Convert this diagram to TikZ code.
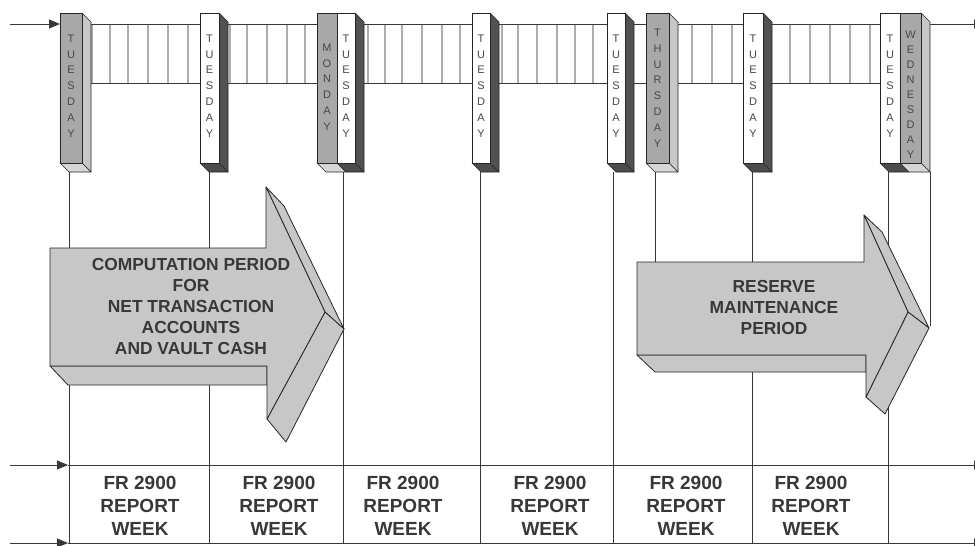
\documentclass[tikz,border=0pt]{standalone}
\usepackage{fontspec}
\setmainfont{Liberation Sans}
\usetikzlibrary{arrows.meta}
\definecolor{pgray}{gray}{0.66}
\definecolor{pgrayside}{gray}{0.78}
\definecolor{pgraybot}{gray}{0.84}
\definecolor{pdark}{gray}{0.32}
\definecolor{pdarkbot}{gray}{0.30}
\definecolor{agray}{gray}{0.78}
\definecolor{inkc}{gray}{0.22}
\newcommand\pfront[4]{%
  \filldraw[face,fill=#4] (#1,163) -- (#2,163) -- (#2+9,172) -- (#1+9,172) -- cycle;
  \filldraw[face,fill=#3] (#1,13) rectangle (#2,163);}
\newcommand\pside[2]{%
  \filldraw[face,fill=#2] (#1,13) -- (#1+9,22) -- (#1+9,172) -- (#1,163) -- cycle;}
\begin{document}
\begin{tikzpicture}[x=1pt,y=-1pt,
  line/.style={draw=inkc, line width=0.9pt},
  rung/.style={draw=black!62, double=black!32, double distance=1.7pt, line width=0.55pt},
  face/.style={draw=black!85, line width=0.6pt, line join=round},
  arrowface/.style={fill=agray, draw=black!85, line width=0.8pt, line join=round},
  daylbl/.style={font=\fontsize{11}{15.8}\selectfont, text=black!72, align=center, inner sep=0pt},
  daylblw/.style={font=\fontsize{11}{15}\selectfont, text=black!72, align=center, inner sep=0pt},
  arrlbl/.style={font=\fontsize{17.4}{21}\selectfont\bfseries, text=black!78, align=center, inner sep=0pt},
  weeklbl/.style={font=\fontsize{19}{23}\selectfont\bfseries, text=black!78, align=center, inner sep=0pt},
  tipend/.style={-{Triangle[length=11pt,width=9pt]}}]
\useasboundingbox (0,0) rectangle (975,546);
\fill[white] (0,0) rectangle (975,546);

% ---- coordinates for connectors
\coordinate (inT) at (10,24);   \coordinate (p1T) at (60,24);
\coordinate (p8T) at (930,24);  \coordinate (outT) at (985,24);
\coordinate (inM) at (10,465);  \coordinate (inB) at (10,543);
\coordinate (c1M) at (68,465);  \coordinate (c1B) at (68,543);
\coordinate (outM) at (985,465); \coordinate (outB) at (985,543);

% ---- ladder
\draw[line] (60,24) -- (930,24);
\draw[line] (60,83) -- (930,83);
\foreach \x in {92,110,128,148,168,188,230,247,267,287,305,368,385,402,422,442,460,502,518,537,557,575,593,692,712,732,790,810,830,850,870}
  \draw[rung] (\x,24.5) -- (\x,82.5);

% ---- entry / exit arrows
\draw[line,tipend] (inT) -- (p1T);
\draw[line,tipend] (p8T) -- (outT);
\draw[line,tipend] (inM) -- (c1M);
\draw[line,tipend] (inB) -- (c1B);
\draw[line,tipend] (c1M) -- (outM);
\draw[line,tipend] (c1B) -- (outB);

% ---- vertical lines
\foreach \x in {69,209,343,480,613,752,888}
  \draw[line] (\x,172) -- (\x,543);
\draw[line] (655,172) -- (655,262);
\draw[line] (930,172) -- (930,326);

% ---- pillars
\pside{82}{pgrayside}
\pfront{60}{82}{pgray}{pgraybot}
\pside{219}{pdark}
\pfront{200}{219}{white}{pdarkbot}
\pside{355}{pdark}
\pfront{317}{337}{pgray}{pgraybot}
\pfront{337}{355}{white}{pdarkbot}
\pside{490}{pdark}
\pfront{472}{490}{white}{pdarkbot}
\pside{625}{pdark}
\pfront{607}{625}{white}{pdarkbot}
\pside{669}{pgrayside}
\pfront{646}{669}{pgray}{pgraybot}
\pside{763}{pdark}
\pfront{743}{763}{white}{pdarkbot}
\pside{921}{pgrayside}
\pfront{880}{900}{white}{pdarkbot}
\pfront{900}{921}{pgray}{pgraybot}

\node[daylbl] (d1) at (71,86) {T\\U\\E\\S\\D\\A\\Y};
\node[daylbl] (d2) at (209.5,86) {T\\U\\E\\S\\D\\A\\Y};
\node[daylbl] (d3) at (327,87) {M\\O\\N\\D\\A\\Y};
\node[daylbl] (d4) at (346,86) {T\\U\\E\\S\\D\\A\\Y};
\node[daylbl] (d5) at (481,86) {T\\U\\E\\S\\D\\A\\Y};
\node[daylbl] (d6) at (616,86) {T\\U\\E\\S\\D\\A\\Y};
\node[daylbl] (d7) at (657.5,88) {T\\H\\U\\R\\S\\D\\A\\Y};
\node[daylbl] (d8) at (753,86) {T\\U\\E\\S\\D\\A\\Y};
\node[daylbl] (d9) at (890,86) {T\\U\\E\\S\\D\\A\\Y};
\node[daylblw] (d10) at (910.5,95) {W\\E\\D\\N\\E\\S\\D\\A\\Y};

% ---- left arrow (computation period)
\filldraw[arrowface] (50,366) -- (68,385) -- (267,385) -- (267,366) -- cycle;
\filldraw[arrowface] (266,187) -- (284,206) -- (344,329) -- (325,312) -- cycle;
\filldraw[arrowface] (325,312) -- (344,329) -- (286,442) -- (267,419) -- cycle;
\filldraw[arrowface] (50,248) -- (266,248) -- (266,187) -- (325,312) -- (267,419) -- (267,366) -- (50,366) -- cycle;
\node[arrlbl] (cp) at (191,307) {COMPUTATION PERIOD\\FOR\\NET TRANSACTION\\ACCOUNTS\\AND VAULT CASH};

% ---- right arrow (reserve maintenance period)
\filldraw[arrowface] (637,355) -- (655,372) -- (866,372) -- (866,355) -- cycle;
\filldraw[arrowface] (864,215) -- (882,232) -- (929,328) -- (908,312) -- cycle;
\filldraw[arrowface] (908,312) -- (929,328) -- (885,414) -- (866,397) -- cycle;
\filldraw[arrowface] (637,262) -- (864,262) -- (864,215) -- (908,312) -- (866,397) -- (866,355) -- (637,355) -- cycle;
\node[arrlbl] (rm) at (774,308) {RESERVE\\MAINTENANCE\\PERIOD};

% ---- report week labels
\node[weeklbl] (w1) at (140,506) {FR 2900\\REPORT\\WEEK};
\node[weeklbl] (w2) at (279,506) {FR 2900\\REPORT\\WEEK};
\node[weeklbl] (w3) at (403,506) {FR 2900\\REPORT\\WEEK};
\node[weeklbl] (w4) at (550,506) {FR 2900\\REPORT\\WEEK};
\node[weeklbl] (w5) at (686,506) {FR 2900\\REPORT\\WEEK};
\node[weeklbl] (w6) at (811,506) {FR 2900\\REPORT\\WEEK};
\end{tikzpicture}
\end{document}
